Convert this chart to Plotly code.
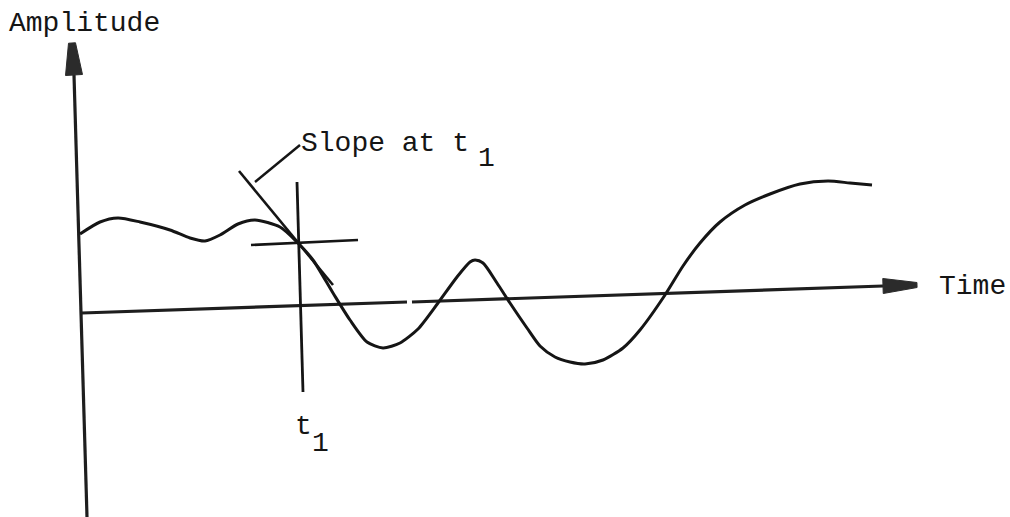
import plotly.graph_objects as go

# ---- data (picture units: x to the right, y downward) ----
curve_x = [80, 100, 118, 140, 170, 190, 205, 220, 238, 255, 280, 297, 313, 333, 350, 367,
           383, 400, 418, 438, 457, 470, 475, 483, 497, 510, 527, 540, 555, 570, 585, 603,
           623, 640, 665, 683, 700, 720, 745, 770, 800, 828, 850, 872]
curve_y = [234, 222, 218, 222, 230, 238, 241, 235, 224, 220, 227, 242, 260, 293, 320, 342,
           348, 343, 329, 303, 277, 262, 260, 263, 283, 303, 328, 346, 357, 362, 364, 360,
           348, 330, 295, 266, 243, 222, 205, 194, 184, 181, 183, 185]

amp_axis_x = [87, 74]          # amplitude axis: bottom -> below arrowhead
amp_axis_y = [517, 75]
amp_tip = (72, 43)

time_axis_a_x = [82, 407]       # time axis, first piece (small gap after it)
time_axis_a_y = [313, 302]
time_axis_b_x = [412, 883]
time_axis_b_y = [302, 286]
time_tip = (917, 285)

tangent_x = [239, 333]
tangent_y = [171, 285]
cross_h_x = [251, 358]
cross_h_y = [245, 240]
cross_v_x = [297, 303]
cross_v_y = [182, 392]
pointer_x = [255, 300]
pointer_y = [182, 145]

FONT = "Courier New, Liberation Mono, monospace"
INK = "#151515"

fig = go.Figure()


def seg(xs, ys, w, color=INK):
    fig.add_trace(go.Scatter(x=xs, y=ys, mode="lines",
                             line=dict(color=color, width=w),
                             hoverinfo="skip", showlegend=False))


def arrow_head(tip, base, base_w, tip_w, color="#2b2b2b"):
    tx, ty = tip
    bx, by = base
    dx, dy = tx - bx, ty - by
    n = (dx * dx + dy * dy) ** 0.5
    px, py = -dy / n, dx / n
    xs = [bx + px * base_w / 2, tx + px * tip_w / 2, tx - px * tip_w / 2,
          bx - px * base_w / 2, bx + px * base_w / 2]
    ys = [by + py * base_w / 2, ty + py * tip_w / 2, ty - py * tip_w / 2,
          by - py * base_w / 2, by + py * base_w / 2]
    fig.add_trace(go.Scatter(x=xs, y=ys, mode="lines", fill="toself",
                             fillcolor=color, line=dict(color=color, width=1),
                             hoverinfo="skip", showlegend=False))


# axes
seg(amp_axis_x, amp_axis_y, 3.2, "#1e1e1e")
arrow_head(amp_tip, (amp_axis_x[1], amp_axis_y[1]), 17, 7)
seg(time_axis_a_x, time_axis_a_y, 3.2, "#1e1e1e")
seg(time_axis_b_x, time_axis_b_y, 3.2, "#1e1e1e")
arrow_head(time_tip, (time_axis_b_x[1], time_axis_b_y[1]), 15, 5)

# construction lines
seg(tangent_x, tangent_y, 2.6)
seg(cross_h_x, cross_h_y, 2.6)
seg(cross_v_x, cross_v_y, 2.8)
seg(pointer_x, pointer_y, 2.4)

# signal
fig.add_trace(go.Scatter(x=curve_x, y=curve_y, mode="lines",
                         line=dict(color=INK, width=3, shape="spline", smoothing=0.7),
                         hoverinfo="skip", showlegend=False))


def label(text, x, y, size=28, xanchor="left"):
    fig.add_annotation(x=x, y=y, text=text, showarrow=False, xanchor=xanchor,
                       yanchor="middle", borderpad=0,
                       font=dict(family=FONT, size=size, color=INK))


label("Amplitude", 8, 23)
label("Time", 938, 286)
label("Slope at t", 300, 143)
label("1", 486, 158, xanchor="center")
label("t", 303, 426, xanchor="center")
label("1", 320, 443, xanchor="center")

fig.update_layout(
    width=1010, height=517,
    margin=dict(l=0, r=0, t=0, b=0),
    paper_bgcolor="white", plot_bgcolor="white",
    xaxis=dict(range=[0, 1010], visible=False, fixedrange=True),
    yaxis=dict(range=[517, 0], visible=False, fixedrange=True),
    showlegend=False,
)

fig.write_html("out.html", config={"displayModeBar": False},
               post_script="document.body.style.margin='0';document.body.style.overflow='hidden';")
